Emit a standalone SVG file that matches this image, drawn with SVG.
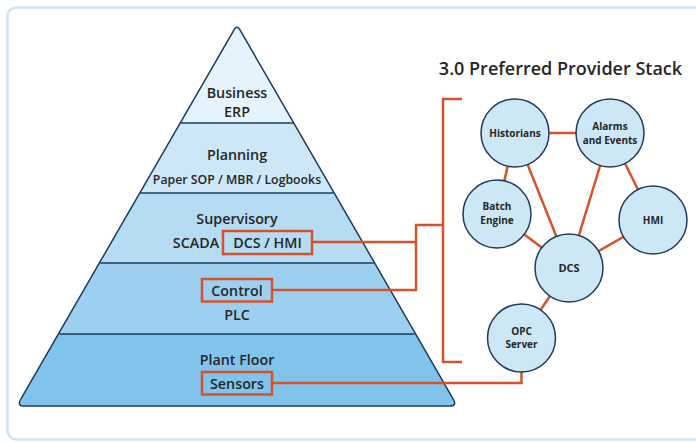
<svg xmlns="http://www.w3.org/2000/svg" width="696" height="442" viewBox="0 0 696 442">
  <defs>
    <clipPath id="pyr">
      <path d="M233.6,30.6 Q237,24 240.4,30.6 L453.5,399.5 Q457,406 450,406 L24,406 Q17,406 20.5,399.5 Z"/>
    </clipPath>
    <style>
      text { font-family: "Open Sans", "Noto Sans", "DejaVu Sans", sans-serif; fill: #262626; text-anchor: middle; }
      .lvl { font-size: 14.3px; font-weight: 600; }
      .sub { font-size: 12.3px; font-weight: 600; }
      .node { font-size: 10px; font-weight: 700; }
      .sep { stroke: #1d3b5c; stroke-width: 1.5; }
      .hl { fill: none; stroke: #d4532b; stroke-width: 2.5; }
      .con { fill: none; stroke: #d4532b; stroke-width: 2.5; }
      circle { fill: #cde7f5; stroke: #1d3b5c; stroke-width: 1.5; }
    </style>
  </defs>
  <rect x="0" y="0" width="696" height="442" fill="#ffffff"/>
  <rect x="7.5" y="7.5" width="730" height="432" rx="9" fill="none" stroke="#cfe3f2" stroke-width="2.5"/>

  <g id="pyramid">
    <g clip-path="url(#pyr)">
      <rect x="0" y="20" width="470" height="103" fill="#e5f4fc"/>
      <rect x="0" y="123" width="470" height="70" fill="#cde7f6"/>
      <rect x="0" y="193" width="470" height="70" fill="#b5dcf3"/>
      <rect x="0" y="263" width="470" height="71" fill="#9dd0f0"/>
      <rect x="0" y="334" width="470" height="80" fill="#80c4ec"/>
    </g>
    <line class="sep" x1="180.7" y1="123" x2="293.3" y2="123"/>
    <line class="sep" x1="140.4" y1="193" x2="333.6" y2="193"/>
    <line class="sep" x1="100.2" y1="263" x2="373.8" y2="263"/>
    <line class="sep" x1="59.4" y1="334" x2="414.6" y2="334"/>
    <path d="M233.6,30.6 Q237,24 240.4,30.6 L453.5,399.5 Q457,406 450,406 L24,406 Q17,406 20.5,399.5 Z" fill="none" stroke="#1d3b5c" stroke-width="1.5"/>
  </g>

  <g id="level-business">
    <text class="lvl" x="237" y="98">Business</text>
    <text class="lvl" x="237" y="117">ERP</text>
  </g>
  <g id="level-planning">
    <text class="lvl" x="237" y="160">Planning</text>
    <text class="sub" x="237" y="184">Paper SOP / MBR / Logbooks</text>
  </g>
  <g id="level-supervisory">
    <text class="lvl" x="237" y="224">Supervisory</text>
    <text class="lvl" x="196" y="248">SCADA</text>
    <rect class="hl" x="223" y="231" width="89" height="23"/>
    <text class="lvl" x="267.5" y="248">DCS / HMI</text>
  </g>
  <g id="level-control">
    <rect class="hl" x="202" y="279" width="70" height="22.5"/>
    <text class="lvl" x="237" y="296">Control</text>
    <text class="lvl" x="237" y="320">PLC</text>
  </g>
  <g id="level-plant">
    <text class="lvl" x="237" y="365">Plant Floor</text>
    <rect class="hl" x="202" y="372" width="70" height="22.5"/>
    <text class="lvl" x="237" y="389">Sensors</text>
  </g>

  <g id="title">
    <text x="560.5" y="75" style="font-size:18px;font-weight:600;">3.0 Preferred Provider Stack</text>
  </g>

  <g id="connectors">
    <polyline class="con" points="312,242 416,242"/>
    <polyline class="con" points="272,290 416,290"/>
    <polyline class="con" points="416,225 416,291.2"/>
    <polyline class="con" points="415,225 443,225"/>
    <polyline class="con" points="462,99 443,99 443,362 462,362"/>
    <polyline class="con" points="272,383 521.5,383 521.5,372"/>
    <line class="con" x1="515" y1="133" x2="610" y2="133"/>
    <line class="con" x1="515" y1="133" x2="497" y2="214"/>
    <line class="con" x1="515" y1="133" x2="569" y2="268"/>
    <line class="con" x1="610" y1="133" x2="569" y2="268"/>
    <line class="con" x1="610" y1="133" x2="653" y2="220"/>
    <line class="con" x1="497" y1="214" x2="569" y2="268"/>
    <line class="con" x1="653" y1="220" x2="569" y2="268"/>
    <line class="con" x1="569" y1="268" x2="521.5" y2="338"/>
  </g>

  <g id="node-historians">
    <circle cx="515" cy="133" r="34"/>
    <text class="node" x="515" y="137">Historians</text>
  </g>
  <g id="node-alarms">
    <circle cx="610" cy="133" r="34"/>
    <text class="node" x="610" y="130">Alarms</text>
    <text class="node" x="610" y="143.5">and Events</text>
  </g>
  <g id="node-batch">
    <circle cx="497" cy="214" r="34"/>
    <text class="node" x="497" y="210">Batch</text>
    <text class="node" x="497" y="223.5">Engine</text>
  </g>
  <g id="node-hmi">
    <circle cx="653" cy="220" r="34"/>
    <text class="node" x="653" y="224">HMI</text>
  </g>
  <g id="node-dcs">
    <circle cx="569" cy="268" r="34"/>
    <text class="node" x="569" y="272" style="font-size:11px">DCS</text>
  </g>
  <g id="node-opc">
    <circle cx="521.5" cy="338" r="34"/>
    <text class="node" x="521.5" y="334.5">OPC</text>
    <text class="node" x="521.5" y="348">Server</text>
  </g>
</svg>
